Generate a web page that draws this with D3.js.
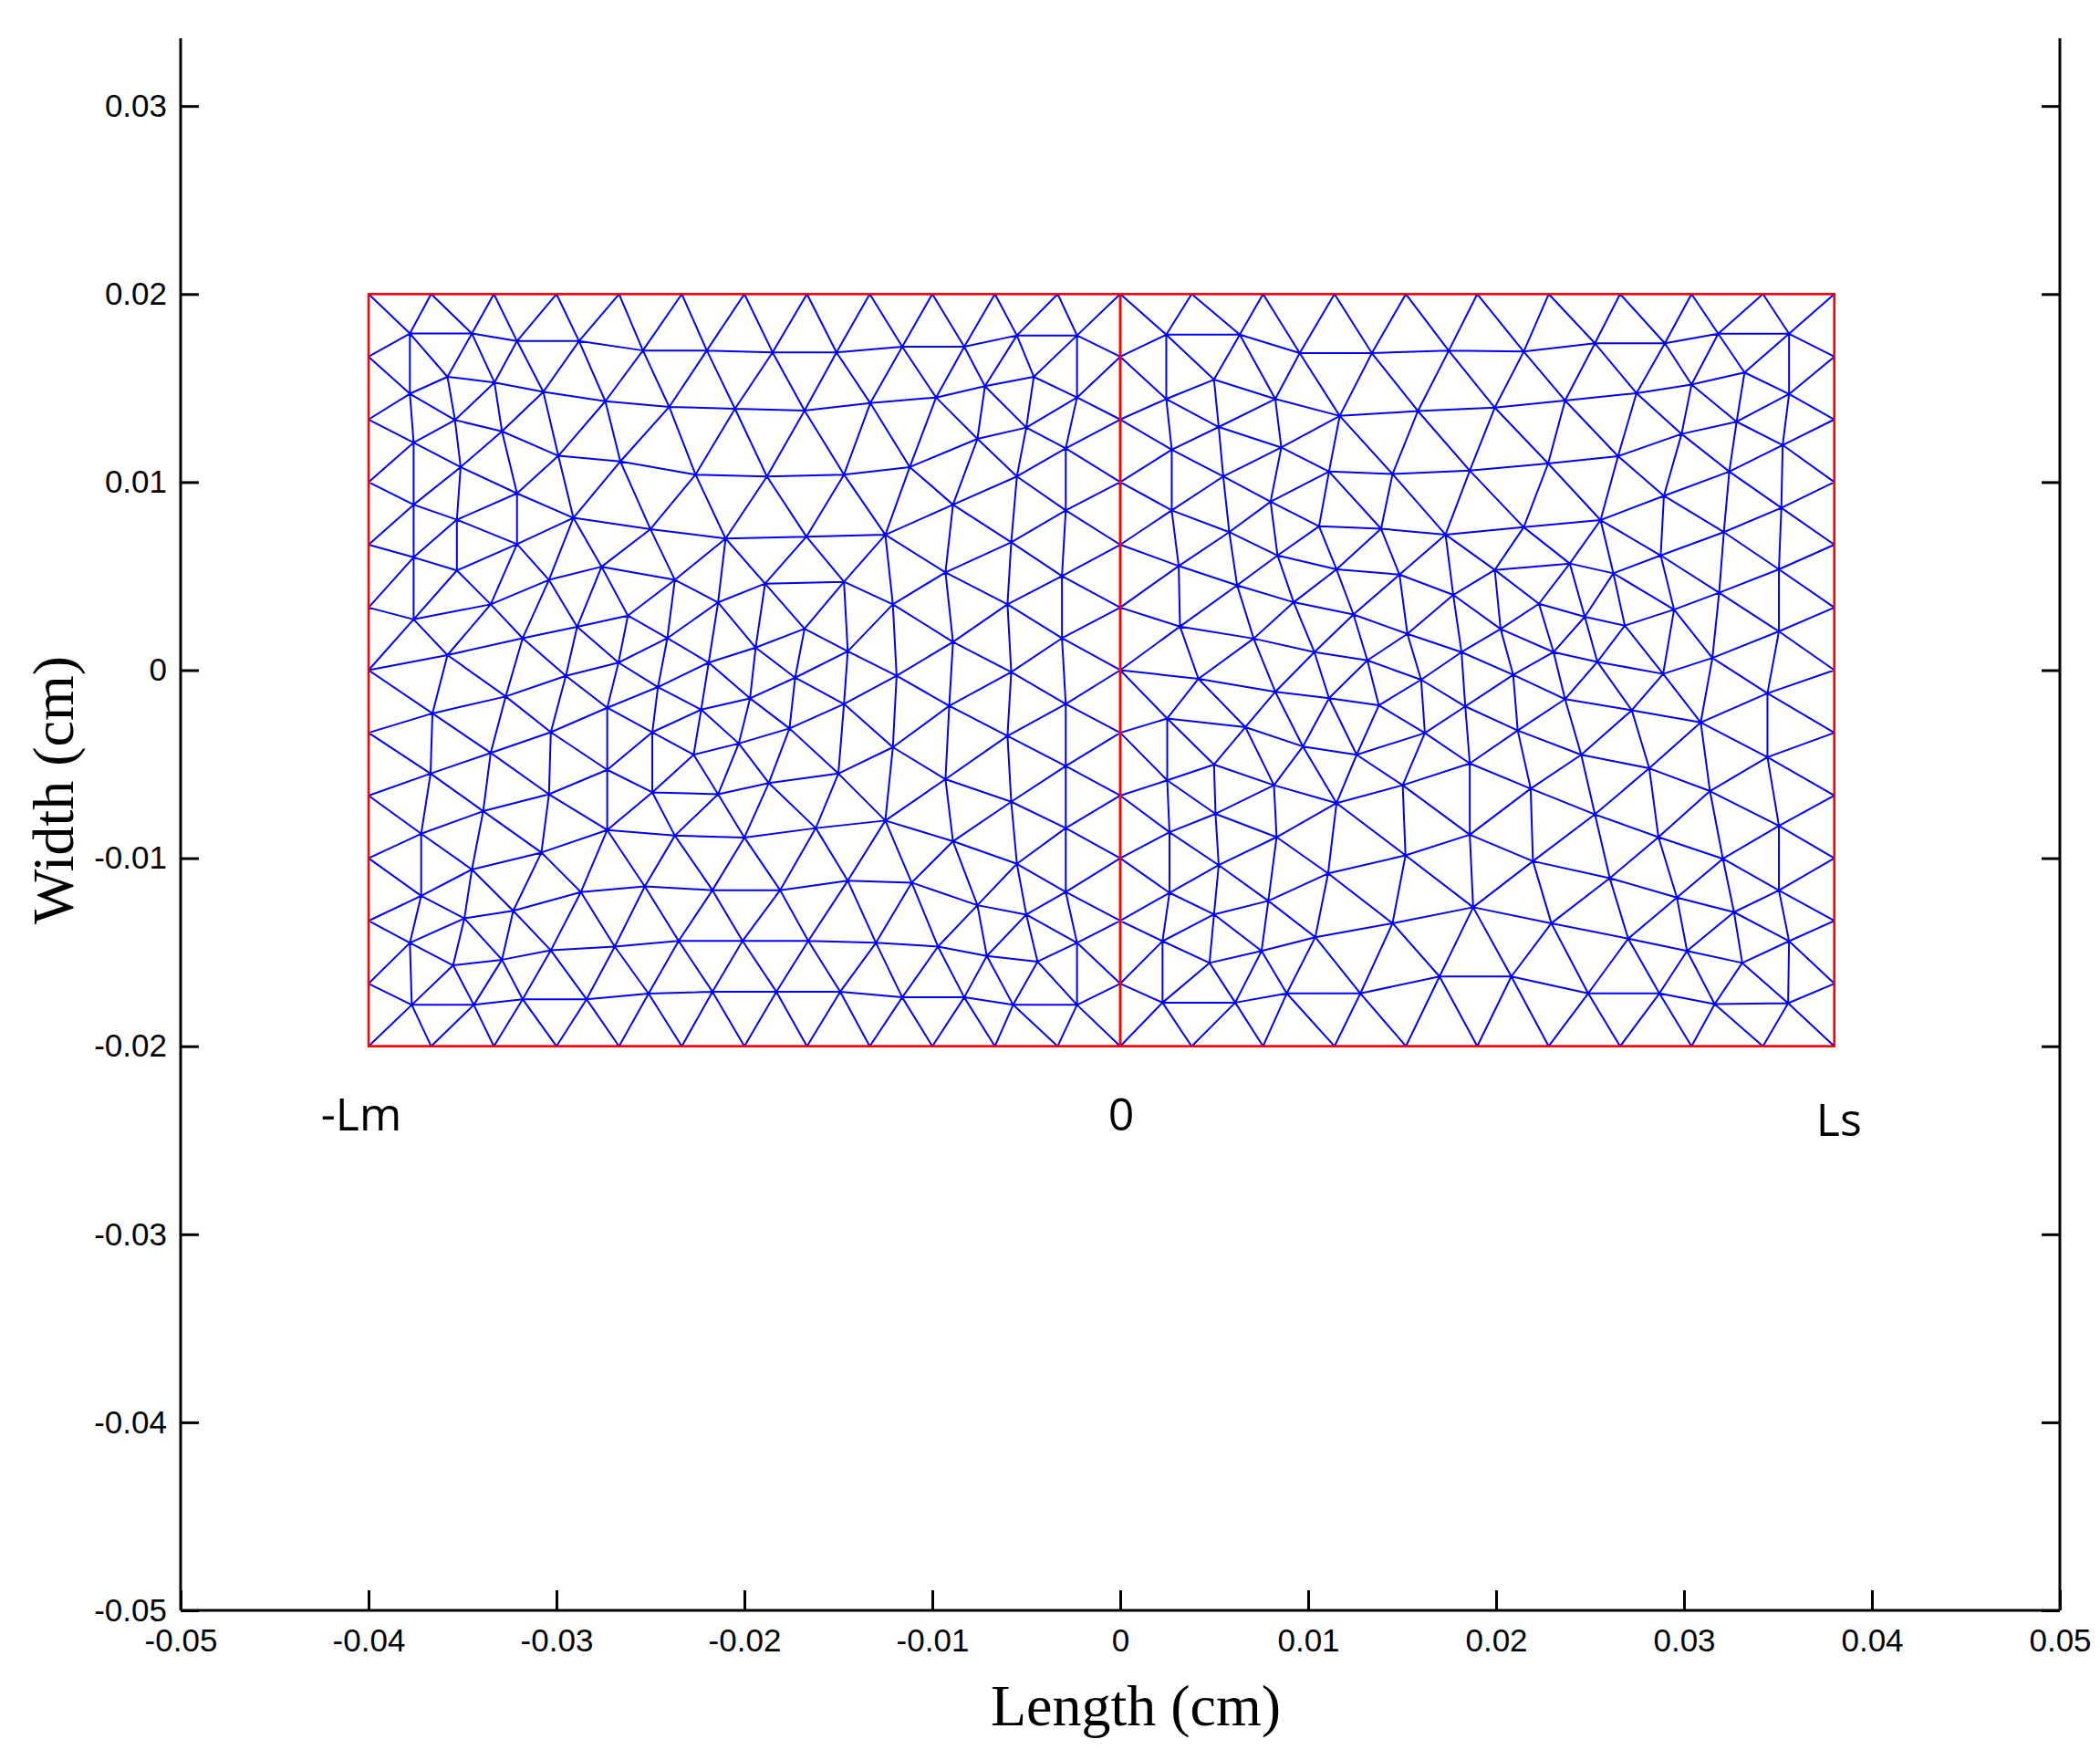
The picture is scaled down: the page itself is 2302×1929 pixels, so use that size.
<!DOCTYPE html>
<html>
<head>
<meta charset="utf-8">
<script src="https://cdn.jsdelivr.net/npm/d3@7"></script>
<style>
  body { margin: 0; background: #fff; }
  .tick text { font-family: "Liberation Sans", Arial, sans-serif; font-size: 35px; fill: #000; }
  .tick line, .domain { stroke: #000; stroke-width: 3px; }
</style>
</head>
<body>
<div id="chart"></div>
<script>
const width = 2302;
const height = 1929;

// axis ticks (cm)
const xTicks = [-0.05, -0.04, -0.03, -0.02, -0.01, 0, 0.01, 0.02, 0.03, 0.04, 0.05];
const yTicks = [-0.05, -0.04, -0.03, -0.02, -0.01, 0, 0.01, 0.02, 0.03];

// domain outlines (cm)
const leftBox = [-0.04, 0, -0.02, 0.02];
const rightBox = [0, 0.038, -0.02, 0.02];

// boundary nodes, units of 1e-3 cm
const leftEdgeX = [-40, -36.67, -33.33, -30, -26.67, -23.33, -20, -16.67, -13.33, -10, -6.67, -3.33, 0];
const rightEdgeX = [0, 3.8, 7.6, 11.4, 15.2, 19, 22.8, 26.6, 30.4, 34.2, 38];
const edgeY = [20, 16.67, 13.33, 10, 6.67, 3.33, 0, -3.33, -6.67, -10, -13.33, -16.67, -20];

// interior nodes, units of 1e-3 cm
const leftNodes = [
  [-37.8,17.9],[-34.5,17.9],[-32.1,17.5],[-28.8,17.5],[-25.4,17.0],[-22.0,17.0],[-18.5,16.9],[-15.1,16.9],[-11.6,17.2],[-8.3,17.2],[-5.5,17.8],[-2.3,17.8],
  [-35.8,15.6],[-33.3,15.3],[-30.7,14.8],[-27.4,14.3],[-24.0,14.0],[-20.5,13.9],[-16.8,13.8],[-13.3,14.2],[-9.8,14.5],[-7.2,15.1],[-4.6,15.6],[-37.8,14.7],[-2.3,14.5],
  [-35.4,13.3],[-32.9,12.7],[-7.6,12.3],[-5.0,12.9],[-37.6,12.1],[-2.9,11.8],
  [-35.1,10.8],[-29.9,11.4],[-26.6,11.1],[-22.6,10.4],[-18.8,10.3],[-14.7,10.4],[-11.2,10.8],[-5.5,10.3],
  [-37.6,8.8],[-32.1,9.4],[-8.9,8.8],[-2.9,8.5],
  [-35.3,8.0],[-29.1,8.1],[-25.0,7.5],[-21.0,7.0],[-16.7,7.1],[-12.5,7.2],
  [-37.6,6.0],[-32.1,6.7],[-5.8,6.8],
  [-35.3,5.3],[-27.6,5.5],[-30.4,4.8],[-23.7,4.8],[-18.9,4.6],[-14.7,4.7],[-9.3,5.2],[-3.1,5.0],
  [-37.6,2.7],[-33.5,3.5],[-21.4,3.6],[-12.1,3.5],[-6.0,3.5],
  [-28.9,2.3],[-26.2,2.9],[-24.1,1.7],[-16.8,2.2],[-8.9,1.5],[-3.1,1.7],
  [-35.8,0.8],[-31.8,1.7],[-19.4,1.2],[-14.5,1.0],
  [-29.5,-0.3],[-26.7,0.4],[-21.9,0.4],[-17.3,-0.4],[-11.9,-0.3],[-5.8,-0.1],
  [-32.7,-1.4],[-24.6,-0.9],[-19.7,-1.5],[-14.7,-1.8],[-9.1,-1.9],[-2.9,-1.8],
  [-36.6,-2.3],[-27.3,-2.0],[-22.3,-2.1],
  [-30.3,-3.3],[-24.9,-3.3],[-17.6,-3.1],[-12.1,-4.1],[-6.0,-3.5],
  [-33.5,-4.4],[-20.3,-3.9],[-22.7,-4.5],
  [-36.7,-5.5],[-27.3,-5.3],[-15.0,-5.5],[-9.3,-5.8],[-2.9,-5.1],
  [-30.4,-6.6],[-24.9,-6.5],[-21.4,-6.6],[-18.7,-6.0],[-5.8,-7.0],
  [-33.9,-7.5],[-12.5,-8.0],[-2.9,-8.4],
  [-37.2,-8.7],[-27.3,-8.5],[-23.7,-8.8],[-20.0,-8.9],[-16.2,-8.4],[-8.9,-9.1],
  [-30.8,-9.7],[-5.5,-10.3],
  [-34.5,-10.6],[-28.7,-11.8],[-25.3,-11.5],[-21.7,-11.7],[-18.1,-11.7],[-14.5,-11.2],[-11.1,-11.3],[-2.9,-11.8],
  [-37.2,-12.0],[-32.3,-12.8],[-7.6,-12.5],[-5.0,-13.0],
  [-34.9,-13.2],[-37.8,-14.5],[-30.3,-14.9],[-26.9,-14.7],[-23.5,-14.4],[-20.1,-14.4],[-16.6,-14.4],[-13.0,-14.5],[-9.7,-14.7],[-7.1,-15.2],[-2.3,-14.5],
  [-35.5,-15.7],[-32.9,-15.4],[-4.4,-15.5],
  [-37.7,-17.8],[-34.4,-17.8],[-31.8,-17.5],[-28.4,-17.5],[-25.1,-17.2],[-21.7,-17.1],[-18.3,-17.1],[-14.9,-17.1],[-11.6,-17.4],[-8.3,-17.4],[-5.7,-17.8],[-2.3,-17.8]
];

const rightNodes = [
  [2.45,17.84],[6.36,17.84],[9.55,16.86],[13.39,16.86],[17.48,16.99],[21.47,16.94],[25.26,17.38],[28.98,17.38],[31.82,17.89],[35.59,17.89],
  [4.99,15.45],[8.25,14.42],[2.45,14.42],[11.68,13.52],[15.84,13.78],[19.93,13.96],[23.67,14.34],[27.47,14.73],[30.40,15.19],[33.22,15.83],[35.59,14.68],
  [5.24,12.93],[2.74,11.72],[8.57,11.84],[29.87,12.56],[32.80,13.21],[35.25,11.97],
  [5.48,10.30],[11.11,10.56],[14.49,10.43],[18.60,10.61],[22.77,10.99],[26.49,11.38],[32.41,10.56],
  [2.74,8.50],[8.00,8.96],[28.93,9.27],[35.18,8.63],
  [5.80,7.34],[10.58,7.65],[13.88,7.52],[17.31,7.21],[21.47,7.60],[25.56,7.98],[32.12,7.34],
  [8.37,6.10],[3.11,5.54],[11.51,5.36],[14.86,5.08],[19.93,5.33],[23.92,5.67],[26.24,5.15],[28.76,6.10],[35.05,5.36],
  [6.22,4.51],[9.23,3.61],[17.72,4.00],[31.87,4.12],[29.47,3.22],[22.28,3.53],[24.72,2.84],
  [3.18,2.32],[12.41,2.96],[15.28,1.93],[20.24,2.19],[26.85,2.37],[35.05,2.06],
  [7.10,1.68],[10.33,0.96],[18.16,0.96],[23.06,0.96],[31.51,0.65],[13.15,0.52],
  [4.16,-0.46],[16.01,-0.51],[20.91,-0.25],[25.39,0.44],[28.89,-0.20],[34.44,-1.23],
  [8.25,-1.15],[11.11,-1.49],[13.76,-1.87],[18.36,-1.93],[23.67,-1.54],[27.22,-2.13],
  [2.50,-2.57],[6.66,-3.03],[16.21,-3.34],[21.15,-3.21],[30.89,-2.78],
  [9.72,-4.06],[12.58,-4.50],[18.60,-4.96],[24.53,-4.50],[28.15,-5.22],[34.44,-4.63],
  [4.99,-5.02],[2.50,-5.86],[8.18,-6.12],[15.03,-6.12],[21.84,-6.30],[31.38,-6.43],
  [11.51,-7.07],[5.07,-7.64],[25.26,-7.67],[2.62,-8.62],[8.32,-8.88],[18.60,-8.75],[28.64,-8.88],[35.05,-8.28],
  [5.24,-10.37],[15.18,-9.85],[21.96,-10.16],[32.07,-10.03],
  [11.06,-10.81],[26.05,-11.06],[2.62,-11.84],[7.88,-12.27],[29.62,-12.09],[35.05,-11.71],
  [4.99,-12.99],[18.78,-12.61],[14.49,-13.46],[22.94,-13.46],[32.66,-12.87],
  [2.25,-14.41],[10.38,-14.20],[27.03,-14.28],[35.59,-14.41],
  [7.52,-14.93],[4.75,-15.57],[30.16,-14.93],[33.10,-15.57],
  [16.99,-16.29],[20.81,-16.29],[8.86,-17.19],[12.78,-17.19],[24.90,-17.19],[28.69,-17.19],
  [2.25,-17.68],[6.12,-17.68],[31.63,-17.76],[35.54,-17.71]
];

const x = d3.scaleLinear().domain([-0.05, 0.05]).range([198, 2258]);
const y = d3.scaleLinear().domain([-0.05, 0.0336]).range([1765, 42]);

const svg = d3.select("#chart").append("svg")
    .attr("width", width)
    .attr("height", height);

// build node list of one half: boundary + interior, then triangulate
function halfNodes(edgeX, interior) {
    const pts = [];
    edgeX.forEach(v => { pts.push([v, edgeY[0]]); pts.push([v, edgeY[edgeY.length - 1]]); });
    edgeY.slice(1, -1).forEach(v => { pts.push([edgeX[0], v]); pts.push([edgeX[edgeX.length - 1], v]); });
    interior.forEach(p => pts.push(p));
    return pts.map(p => [x(p[0] * 0.001), y(p[1] * 0.001)]);
}

[[leftEdgeX, leftNodes], [rightEdgeX, rightNodes]].forEach(([ex, nodes]) => {
    const delaunay = d3.Delaunay.from(halfNodes(ex, nodes));
    svg.append("path")
        .attr("d", delaunay.render())
        .attr("fill", "none")
        .attr("stroke", "#0000ff")
        .attr("stroke-width", 2);
});

// red domain outlines
[leftBox, rightBox].forEach(b => {
    svg.append("rect")
        .attr("x", x(b[0]))
        .attr("y", y(b[3]))
        .attr("width", x(b[1]) - x(b[0]))
        .attr("height", y(b[2]) - y(b[3]))
        .attr("fill", "none")
        .attr("stroke", "#ff0000")
        .attr("stroke-width", 2.5);
});

const fmt = d => d === 0 ? "0" : d.toFixed(2);

// axes
svg.append("g")
    .attr("transform", `translate(0,${y(-0.05)})`)
    .call(d3.axisBottom(x).tickValues(xTicks).tickSize(-22).tickPadding(20).tickFormat(fmt).tickSizeOuter(0));
svg.append("g")
    .attr("transform", `translate(${x(-0.05)},0)`)
    .call(d3.axisLeft(y).tickValues(yTicks).tickSize(-20).tickPadding(15).tickFormat(fmt).tickSizeOuter(0));
svg.append("g")
    .attr("transform", `translate(${x(0.05)},0)`)
    .call(d3.axisRight(y).tickValues(yTicks).tickSize(-20).tickFormat("").tickSizeOuter(0));
svg.selectAll(".domain").attr("d", function() {
    return d3.select(this.parentNode).attr("transform").includes("translate(0") ?
        `M${x(-0.05)},0H${x(0.05)}` : `M0,${y(-0.05)}V${y.range()[1]}`;
});

// axis titles
svg.append("text")
    .attr("x", 1245).attr("y", 1891)
    .attr("text-anchor", "middle")
    .style("font-family", "'Liberation Serif', 'Times New Roman', serif")
    .style("font-size", "64px")
    .text("Length (cm)");
svg.append("text")
    .attr("transform", "translate(80,866) rotate(-90)")
    .attr("text-anchor", "middle")
    .style("font-family", "'Liberation Serif', 'Times New Roman', serif")
    .style("font-size", "64px")
    .text("Width (cm)");

// domain end labels
const endLabels = [["-Lm", -0.04, 1239], ["0", 0, 1239], ["Ls", 0.038, 1245]];
svg.selectAll(".endlabel")
    .data(endLabels)
    .join("text")
    .attr("class", "endlabel")
    .attr("x", d => x(d[1]) - (d[1] === -0.04 ? 8 : d[1] === 0.038 ? -5 : -1))
    .attr("y", d => d[2])
    .attr("text-anchor", "middle")
    .style("font-family", "'Open Sans', 'Liberation Sans', sans-serif")
    .style("font-size", "50px")
    .text(d => d[0]);
</script>
</body>
</html>
